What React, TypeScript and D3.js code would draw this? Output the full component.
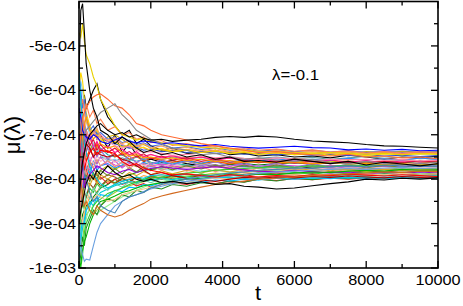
import React from 'react';
import * as d3 from 'd3';

// time samples shared by every run
const T = [0, 50, 100, 150, 200, 300, 400, 500, 600, 800, 1000, 1200, 1400, 1600, 1800, 2000, 2300, 2600, 3000,
  3400, 3800, 4200, 4600, 5000, 5500, 6000, 6500, 7000, 7500, 8000, 8500, 9000, 9500, 10000];

// mu(lambda) values of each run, in units of 1e-6
const run01 = [-560, -420, -405, -470, -540, -600, -640, -660, -690, -700, -720, -705, -715, -730, -740, -735, -745, -740, -750, -745, -755, -750, -760, -758, -762, -755, -760, -765, -760, -768, -762, -766, -770, -765];
const run02 = [-700, -650, -630, -610, -640, -620, -600, -585, -620, -660, -680, -700, -690, -720, -710, -725, -735, -730, -742, -740, -735, -745, -742, -748, -745, -750, -748, -752, -746, -750, -755, -750, -752, -748];
const run03 = [-820, -760, -720, -700, -690, -680, -670, -660, -650, -640, -630, -655, -670, -690, -700, -710, -720, -730, -735, -745, -742, -750, -755, -752, -758, -760, -756, -762, -765, -760, -764, -768, -765, -762];
const run04 = [-750, -700, -660, -650, -640, -625, -615, -610, -608, -620, -635, -640, -655, -675, -680, -690, -700, -705, -712, -720, -725, -730, -735, -740, -738, -742, -745, -748, -744, -750, -748, -752, -750, -754];
const run05 = [-850, -800, -760, -740, -720, -700, -690, -680, -675, -690, -700, -695, -705, -700, -708, -712, -710, -715, -712, -710, -706, -704, -706, -703, -705, -710, -714, -716, -718, -722, -725, -726, -728, -730];
const run06 = [-900, -870, -850, -830, -810, -790, -800, -780, -790, -770, -785, -795, -790, -800, -805, -800, -808, -805, -810, -806, -812, -810, -816, -818, -822, -820, -815, -810, -806, -800, -802, -798, -800, -797];
const run07 = [-760, -800, -840, -860, -850, -870, -880, -860, -870, -880, -885, -880, -870, -862, -855, -845, -838, -832, -825, -818, -812, -808, -804, -800, -798, -795, -792, -790, -788, -786, -784, -785, -782, -783];
const run08 = [-650, -700, -760, -790, -800, -830, -850, -840, -860, -870, -876, -850, -840, -835, -830, -820, -812, -805, -800, -795, -790, -786, -784, -780, -778, -775, -776, -772, -770, -772, -768, -770, -772, -770];
const run09 = [-1000, -990, -960, -940, -930, -900, -880, -860, -850, -845, -838, -830, -826, -820, -815, -812, -808, -805, -800, -798, -795, -792, -790, -788, -790, -786, -784, -785, -782, -780, -782, -778, -780, -779];
const run10 = [-900, -950, -970, -985, -980, -982, -950, -920, -900, -880, -860, -850, -840, -835, -828, -822, -816, -810, -805, -800, -796, -792, -790, -787, -784, -782, -780, -778, -776, -778, -775, -774, -776, -775];
const run11 = [-470, -480, -450, -490, -520, -540, -570, -590, -620, -650, -680, -700, -705, -712, -708, -715, -718, -722, -725, -728, -730, -732, -735, -737, -738, -740, -741, -740, -742, -744, -742, -745, -743, -744];
const run12 = [-640, -660, -690, -700, -705, -710, -700, -705, -715, -720, -712, -705, -715, -718, -714, -716, -720, -718, -722, -725, -722, -726, -728, -730, -728, -726, -729, -730, -734, -732, -735, -733, -736, -735];
const run13 = [-720, -760, -740, -780, -760, -740, -730, -745, -735, -738, -742, -760, -770, -765, -775, -780, -785, -790, -788, -792, -795, -790, -793, -795, -792, -794, -790, -792, -789, -791, -793, -790, -792, -794];
const run14 = [-980, -1000, -970, -920, -900, -880, -860, -850, -845, -832, -826, -820, -812, -806, -800, -798, -795, -790, -786, -784, -780, -778, -776, -774, -772, -773, -770, -771, -768, -769, -767, -766, -768, -767];
const run15 = [-560, -620, -680, -720, -740, -770, -790, -800, -810, -820, -812, -805, -800, -795, -798, -792, -790, -793, -789, -792, -795, -797, -799, -801, -797, -796, -798, -795, -797, -796, -799, -797, -798, -796];
const run16 = [-800, -750, -700, -680, -660, -690, -710, -700, -720, -730, -725, -740, -748, -745, -752, -750, -755, -752, -758, -755, -760, -758, -762, -760, -763, -761, -765, -763, -766, -764, -767, -765, -768, -766];
const run17 = [-700, -740, -780, -820, -800, -790, -780, -770, -775, -785, -790, -782, -778, -785, -780, -776, -772, -775, -778, -775, -772, -776, -779, -782, -784, -780, -783, -786, -784, -788, -785, -787, -784, -786];
const run18 = [-880, -840, -800, -760, -730, -700, -690, -710, -700, -715, -725, -730, -726, -735, -740, -738, -742, -746, -744, -748, -752, -749, -753, -756, -752, -755, -758, -755, -757, -755, -758, -756, -759, -757];
const run19 = [-850, -880, -900, -870, -850, -830, -845, -835, -840, -850, -845, -835, -830, -826, -822, -818, -812, -810, -806, -802, -798, -800, -796, -794, -792, -790, -792, -789, -790, -788, -790, -787, -789, -788];
const run20 = [-930, -900, -880, -870, -860, -855, -840, -830, -820, -812, -800, -795, -790, -785, -780, -778, -775, -772, -770, -768, -770, -767, -765, -768, -765, -763, -766, -764, -762, -764, -761, -763, -760, -762];
const run21 = [-600, -640, -660, -680, -700, -720, -735, -740, -730, -745, -750, -745, -755, -760, -756, -762, -766, -764, -768, -772, -770, -774, -772, -776, -774, -777, -775, -778, -776, -779, -777, -780, -778, -780];
const run22 = [-760, -790, -820, -800, -780, -760, -775, -790, -800, -790, -795, -805, -800, -808, -802, -798, -795, -799, -796, -793, -790, -793, -789, -786, -788, -785, -787, -783, -785, -782, -784, -781, -783, -781];
const run23 = [-950, -920, -940, -900, -880, -870, -880, -870, -860, -840, -830, -820, -815, -810, -806, -802, -800, -796, -793, -790, -788, -786, -784, -782, -780, -778, -780, -777, -779, -776, -778, -775, -777, -776];
const run24 = [-660, -700, -720, -700, -690, -710, -725, -720, -735, -740, -730, -738, -745, -742, -748, -745, -750, -748, -752, -750, -754, -752, -755, -753, -757, -754, -756, -758, -755, -757, -754, -756, -753, -755];
const run25 = [-820, -780, -760, -740, -720, -730, -750, -740, -745, -750, -745, -755, -760, -770, -780, -790, -785, -792, -798, -802, -805, -800, -796, -798, -795, -797, -794, -796, -793, -795, -797, -794, -796, -795];
const run26 = [-870, -910, -940, -920, -890, -860, -870, -880, -870, -860, -850, -840, -832, -825, -818, -812, -806, -800, -796, -792, -789, -786, -783, -781, -779, -777, -775, -774, -772, -773, -771, -772, -770, -771];
const run27 = [-700, -680, -700, -720, -710, -700, -690, -695, -705, -715, -720, -725, -730, -728, -735, -732, -738, -736, -740, -738, -742, -740, -744, -742, -745, -743, -746, -744, -747, -745, -748, -746, -749, -747];
const run28 = [-780, -820, -790, -760, -770, -780, -765, -775, -770, -760, -768, -772, -765, -770, -774, -770, -766, -770, -773, -769, -772, -770, -767, -771, -768, -770, -772, -769, -771, -768, -770, -772, -769, -771];
const run29 = [-740, -700, -710, -730, -750, -735, -720, -730, -715, -705, -700, -710, -720, -725, -722, -730, -734, -738, -735, -740, -737, -742, -740, -744, -741, -745, -743, -740, -742, -738, -740, -737, -739, -738];
const run30 = [-640, -680, -720, -760, -740, -700, -690, -710, -700, -730, -700, -740, -720, -745, -760, -755, -762, -758, -765, -770, -768, -772, -770, -774, -771, -775, -773, -776, -778, -775, -777, -780, -778, -776];
const run31 = [-620, -580, -600, -640, -670, -700, -720, -730, -745, -760, -755, -765, -770, -768, -775, -772, -778, -780, -777, -782, -780, -784, -781, -785, -782, -786, -783, -787, -784, -788, -785, -789, -786, -788];
const run32 = [-900, -860, -830, -800, -780, -800, -790, -805, -795, -810, -800, -812, -806, -815, -810, -818, -812, -808, -812, -806, -810, -804, -806, -800, -803, -799, -801, -798, -800, -797, -799, -796, -798, -797];
const run33 = [-760, -720, -740, -780, -800, -770, -760, -765, -750, -755, -760, -752, -758, -750, -755, -752, -756, -750, -754, -751, -755, -752, -756, -753, -750, -754, -751, -755, -752, -749, -753, -750, -754, -752];
const run34 = [-840, -800, -820, -790, -770, -785, -800, -790, -780, -770, -778, -770, -765, -772, -766, -762, -768, -764, -760, -765, -761, -764, -760, -763, -759, -762, -758, -761, -759, -762, -760, -758, -761, -760];
const run35 = [-960, -930, -900, -880, -860, -840, -820, -830, -815, -805, -810, -800, -795, -800, -792, -796, -790, -794, -788, -791, -786, -789, -785, -788, -784, -787, -783, -786, -782, -785, -783, -786, -782, -784];
const run36 = [-580, -620, -650, -670, -690, -710, -700, -690, -705, -715, -710, -722, -728, -724, -730, -735, -732, -736, -733, -738, -735, -739, -736, -740, -737, -741, -738, -742, -739, -743, -740, -744, -741, -742];
const run37 = [-690, -720, -700, -740, -760, -730, -750, -720, -740, -735, -750, -742, -755, -748, -760, -752, -758, -762, -756, -764, -760, -766, -762, -759, -765, -761, -767, -763, -760, -766, -762, -768, -764, -761];
const run38 = [-810, -780, -820, -800, -770, -790, -760, -780, -770, -765, -775, -768, -760, -770, -762, -768, -760, -766, -758, -764, -757, -762, -756, -760, -754, -759, -755, -758, -753, -757, -754, -758, -752, -756];
const run39 = [-920, -880, -850, -870, -840, -820, -830, -810, -820, -800, -808, -798, -806, -795, -802, -792, -798, -790, -796, -788, -794, -787, -792, -786, -790, -785, -789, -784, -788, -783, -787, -785, -789, -786];
const run40 = [-600, -560, -580, -620, -650, -680, -700, -690, -710, -720, -715, -728, -722, -732, -728, -736, -731, -738, -734, -740, -736, -742, -738, -744, -740, -745, -741, -746, -742, -747, -743, -745, -741, -744];
const run41 = [-880, -850, -860, -830, -840, -810, -820, -805, -815, -800, -810, -798, -806, -796, -803, -794, -800, -792, -798, -791, -796, -789, -794, -788, -793, -790, -794, -789, -792, -788, -791, -787, -790, -789];
const run42 = [-730, -770, -750, -720, -740, -760, -745, -765, -750, -770, -758, -775, -762, -770, -765, -772, -768, -776, -770, -774, -768, -773, -769, -775, -771, -774, -770, -776, -772, -775, -771, -774, -770, -773];
const run43 = [-980, -940, -910, -890, -870, -850, -860, -840, -830, -822, -815, -810, -805, -808, -800, -803, -798, -801, -796, -799, -794, -797, -793, -796, -792, -795, -791, -794, -790, -793, -791, -794, -790, -792];
const run44 = [-640, -680, -660, -700, -720, -700, -730, -715, -735, -725, -740, -732, -745, -738, -750, -744, -752, -747, -755, -750, -757, -752, -758, -754, -760, -756, -761, -757, -762, -758, -763, -759, -761, -758];
const run45 = [-1000, -970, -930, -950, -910, -890, -870, -880, -860, -845, -850, -835, -840, -825, -830, -818, -822, -812, -816, -808, -811, -804, -807, -800, -804, -798, -801, -796, -799, -795, -798, -794, -797, -795];
const run46 = [-780, -740, -760, -790, -770, -750, -765, -745, -760, -750, -762, -755, -768, -760, -770, -764, -772, -766, -774, -768, -775, -770, -776, -772, -777, -773, -778, -774, -777, -773, -776, -772, -775, -773];
const run47 = [-560, -600, -640, -620, -660, -690, -680, -700, -695, -710, -705, -718, -712, -722, -718, -726, -722, -730, -727, -733, -730, -735, -732, -737, -734, -738, -735, -739, -736, -740, -737, -740, -738, -739];
const run48 = [-860, -820, -840, -810, -800, -815, -795, -810, -790, -800, -788, -796, -785, -792, -783, -790, -781, -788, -780, -786, -779, -784, -778, -783, -777, -782, -776, -781, -777, -782, -778, -781, -777, -780];
const run49 = [-750, -710, -690, -720, -700, -725, -710, -735, -722, -740, -730, -746, -738, -750, -743, -754, -748, -757, -752, -760, -755, -762, -758, -763, -759, -764, -760, -765, -761, -764, -760, -763, -759, -762];
const run50 = [-900, -870, -840, -860, -830, -845, -820, -835, -815, -825, -810, -818, -806, -812, -802, -808, -799, -804, -797, -801, -795, -799, -793, -797, -792, -796, -791, -795, -790, -794, -791, -795, -792, -794];
const run51 = [-700, -660, -680, -650, -670, -690, -700, -685, -705, -712, -706, -720, -714, -726, -720, -730, -725, -733, -728, -736, -731, -738, -733, -740, -735, -741, -736, -742, -737, -743, -738, -742, -737, -740];
const run52 = [-820, -850, -830, -810, -790, -805, -785, -800, -780, -792, -776, -788, -774, -784, -772, -781, -771, -779, -770, -777, -769, -776, -768, -775, -768, -774, -767, -773, -768, -774, -769, -773, -768, -772];
const run53 = [-620, -660, -700, -680, -720, -740, -725, -750, -735, -755, -742, -760, -748, -763, -752, -766, -756, -768, -759, -770, -761, -771, -763, -772, -764, -773, -765, -774, -766, -773, -765, -772, -764, -771];
const run54 = [-960, -920, -890, -900, -870, -860, -845, -850, -835, -838, -825, -828, -818, -820, -812, -815, -808, -810, -805, -807, -802, -804, -800, -802, -798, -800, -797, -799, -796, -798, -795, -797, -796, -798];
const run55 = [-740, -780, -800, -770, -790, -760, -775, -755, -770, -758, -772, -762, -776, -765, -778, -768, -780, -770, -782, -772, -783, -774, -784, -775, -785, -776, -784, -777, -783, -776, -782, -777, -783, -778];
const run56 = [-680, -640, -620, -650, -630, -660, -645, -675, -665, -690, -682, -700, -695, -710, -705, -718, -713, -724, -720, -728, -725, -732, -729, -735, -732, -737, -734, -739, -736, -741, -738, -742, -739, -741];

const runs = [run30, run02, run33, run34, run35, run36, run20, run21, run22, run23, run24, run26, run27, run28, run29,
  run31, run32, run37, run38, run39, run40, run41, run42, run43, run44, run45, run46, run47, run48, run49, run50,
  run51, run52, run53, run54, run55, run56, run14, run15, run16, run17, run18, run19, run25, run09, run10, run11,
  run12, run13, run07, run08, run04, run03, run01, run06, run05];
const colors = ['#000000', '#000000', '#5f9ea0', '#c0c000', '#ffa040', '#f08080', '#007a00', '#20b2aa', '#a0522d',
  '#9acd32', '#fa8072', '#90ee90', '#3050c8', '#e040e0', '#d4b000', '#87ceeb', '#e8201c', '#ff4500', '#1e90ff',
  '#32cd32', '#ffd700', '#8b4513', '#ba55d3', '#00ced1', '#ff1493', '#228b22', '#ffb6c1', '#4169e1', '#daa520',
  '#dc143c', '#66cdaa', '#f4a460', '#6b8e23', '#9370db', '#00bfff', '#e9967a', '#ff7f50', '#33cc33', '#00c8e0',
  '#ff9900', '#9400d3', '#ff88aa', '#f5c88a', '#b00000', '#00b400', '#6aa0e0', '#e8d000', '#0000ff', '#ff0000',
  '#d2691e', '#4682b4', '#ff6a33', '#888888', '#000000', '#000000', '#000000'];

const xTicks = [0, 2000, 4000, 6000, 8000, 10000];
const yTicks = [-1e-3, -9e-4, -8e-4, -7e-4, -6e-4, -5e-4];
const yTickLabels = ['-1e-03', '-9e-04', '-8e-04', '-7e-04', '-6e-04', '-5e-04'];

export default function App() {
  const W = 463, H = 306;
  const left = 79, right = 438, top = 1.5, bottom = 268;
  const x = d3.scaleLinear().domain([0, 10000]).range([left, right]);
  const y = d3.scaleLinear().domain([-1e-3, -4e-4]).range([bottom, top]);
  const line = d3.line<number>().x((_, i) => x(T[i])).y((v) => y(v * 1e-6));
  const xMinor = d3.range(1000, 10000, 2000);
  const yMinor = d3.range(-9.5e-4, -4e-4, 1e-4);
  const font = 'Liberation Sans, Arial, Helvetica, sans-serif';

  return (
    <svg width={W} height={H} style={{position: 'fixed', left: 0, top: 0, background: '#fff'}}>
      <defs>
        <clipPath id="plot"><rect x={left} y={top} width={right - left} height={bottom - top}/></clipPath>
      </defs>
      <g clipPath="url(#plot)">
        {runs.map((r, i) => (
          <path key={i} d={line(r) || ''} fill="none" stroke={colors[i]} strokeWidth={1.1}/>
        ))}
      </g>
      <rect x={left} y={top} width={right - left} height={bottom - top} fill="none" stroke="#000" strokeWidth={1.6}/>
      {xTicks.map((t) => (
        <g key={'xt' + t}>
          <line x1={x(t)} x2={x(t)} y1={bottom} y2={bottom - 7} stroke="#000" strokeWidth={1.3}/>
          <line x1={x(t)} x2={x(t)} y1={top} y2={top + 7} stroke="#000" strokeWidth={1.3}/>
          <text transform={`translate(${x(t)},285) scale(1.12,1)`} textAnchor="middle" fontFamily={font} fontSize={14.5}>{t}</text>
        </g>
      ))}
      {xMinor.map((t) => (
        <g key={'xm' + t}>
          <line x1={x(t)} x2={x(t)} y1={bottom} y2={bottom - 4} stroke="#000" strokeWidth={1.3}/>
          <line x1={x(t)} x2={x(t)} y1={top} y2={top + 4} stroke="#000" strokeWidth={1.3}/>
        </g>
      ))}
      {yTicks.map((v, i) => (
        <g key={'yt' + i}>
          <line x1={left} x2={left + 7} y1={y(v)} y2={y(v)} stroke="#000" strokeWidth={1.3}/>
          <line x1={right} x2={right - 7} y1={y(v)} y2={y(v)} stroke="#000" strokeWidth={1.3}/>
          <text transform={`translate(76,${y(v) + 5}) scale(1.12,1)`} textAnchor="end" fontFamily={font} fontSize={14.5}>{yTickLabels[i]}</text>
        </g>
      ))}
      {yMinor.map((v, i) => (
        <g key={'ym' + i}>
          <line x1={left} x2={left + 4} y1={y(v)} y2={y(v)} stroke="#000" strokeWidth={1.3}/>
          <line x1={right} x2={right - 4} y1={y(v)} y2={y(v)} stroke="#000" strokeWidth={1.3}/>
        </g>
      ))}
      <text transform="translate(258,300) scale(1.1,1)" textAnchor="middle" fontFamily={font} fontSize={20}>t</text>
      <text transform="translate(20,135) rotate(-90)" textAnchor="middle" fontFamily={font} fontSize={22}>μ(λ)</text>
      <text transform="translate(272,80) scale(1.12,1)" fontFamily={font} fontSize={15}>λ=-0.1</text>
    </svg>
  );
}
